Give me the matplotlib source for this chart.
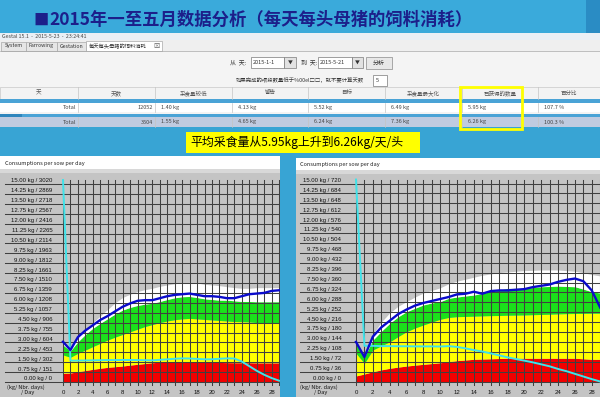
import matplotlib.pyplot as plt
from matplotlib.patches import Rectangle

CJK = ['Noto Sans CJK SC', 'DejaVu Sans']
LAB = ['Liberation Sans', 'DejaVu Sans']

# ---------------- data ----------------
days = list(range(30))
xtick_days = [0, 2, 4, 6, 8, 10, 12, 14, 16, 18, 20, 22, 24, 26, 28]

tick_kg = [0.00, 0.75, 1.50, 2.25, 3.00, 3.75, 4.50, 5.25, 6.00, 6.75, 7.50,
           8.25, 9.00, 9.75, 10.50, 11.25, 12.00, 12.75, 13.50, 14.25, 15.00]
left_nbr = [0, 151, 302, 453, 604, 755, 906, 1057, 1208, 1359, 1510,
            1661, 1812, 1963, 2114, 2265, 2416, 2567, 2718, 2869, 3020]
right_nbr = [0, 36, 72, 108, 144, 180, 216, 252, 288, 324, 360,
             396, 432, 468, 504, 540, 576, 612, 648, 684, 720]

# left chart
red_a = [0.66, 0.68, 0.78, 0.87, 0.96, 1.04, 1.11, 1.16, 1.21, 1.28, 1.34, 1.40, 1.46, 1.50, 1.52,
         1.54, 1.55, 1.55, 1.53, 1.50, 1.49, 1.48, 1.47, 1.46, 1.46, 1.46, 1.45, 1.45, 1.45, 1.45]
yellow_a = [2.05, 1.87, 2.17, 2.42, 2.68, 2.93, 3.18, 3.40, 3.60, 3.80, 4.00, 4.20, 4.35, 4.50, 4.62,
            4.72, 4.78, 4.82, 4.78, 4.74, 4.70, 4.66, 4.62, 4.58, 4.57, 4.55, 4.50, 4.47, 4.44, 4.44]
green_a = [2.80, 2.35, 3.05, 3.60, 4.07, 4.45, 4.80, 5.15, 5.45, 5.65, 5.80, 5.90, 5.96, 6.10, 6.25,
           6.38, 6.46, 6.48, 6.40, 6.30, 6.25, 6.20, 6.20, 6.15, 6.10, 6.10, 6.08, 6.08, 6.08, 6.08]
white_a = [3.10, 2.45, 3.45, 4.00, 4.50, 5.00, 5.50, 6.00, 6.40, 6.65, 6.85, 7.00, 7.10, 7.25, 7.35,
           7.45, 7.50, 7.55, 7.50, 7.40, 7.35, 7.30, 7.22, 7.15, 7.10, 7.10, 7.15, 7.15, 7.15, 7.15]
blue_a = [3.05, 2.42, 3.40, 3.90, 4.30, 4.70, 5.00, 5.35, 5.70, 5.95, 6.15, 6.20, 6.20, 6.35, 6.50,
          6.60, 6.65, 6.70, 6.60, 6.50, 6.50, 6.45, 6.35, 6.35, 6.50, 6.65, 6.70, 6.75, 6.90, 6.95]
cyan_a = [15.30, 1.62, 1.62, 1.63, 1.64, 1.65, 1.66, 1.66, 1.67, 1.67, 1.66, 1.65, 1.64, 1.68, 1.72,
          1.76, 1.79, 1.78, 1.75, 1.72, 1.72, 1.76, 1.79, 1.78, 1.55, 1.20, 0.85, 0.55, 0.30, 0.10]

# right chart
red_b = [0.42, 0.57, 0.74, 0.88, 1.00, 1.09, 1.17, 1.24, 1.30, 1.36, 1.42, 1.50, 1.58, 1.63, 1.68,
         1.70, 1.72, 1.74, 1.76, 1.76, 1.76, 1.76, 1.76, 1.76, 1.76, 1.76, 1.76, 1.72, 1.68, 1.68]
yellow_b = [2.14, 1.38, 2.39, 2.70, 3.00, 3.40, 3.77, 4.05, 4.28, 4.50, 4.71, 4.85, 4.91, 4.93, 4.95,
            4.97, 4.99, 5.00, 5.02, 5.03, 5.04, 5.06, 5.08, 5.10, 5.12, 5.14, 5.15, 5.16, 5.17, 5.17]
green_b = [2.95, 1.85, 3.14, 3.80, 4.40, 4.90, 5.29, 5.55, 5.80, 5.95, 6.05, 6.30, 6.40, 6.48, 6.55,
           6.68, 6.80, 6.93, 7.06, 7.06, 7.06, 7.12, 7.18, 7.20, 7.23, 7.20, 7.18, 7.00, 6.80, 6.70]
white_b = [3.05, 1.90, 3.60, 4.50, 5.20, 5.70, 6.05, 6.40, 6.70, 6.90, 7.10, 7.40, 7.60, 7.75, 7.90,
           8.05, 8.15, 8.25, 8.30, 8.35, 8.40, 8.42, 8.45, 8.45, 8.45, 8.40, 8.35, 8.25, 8.10, 8.00]
blue_b = [3.00, 1.85, 3.40, 4.10, 4.60, 5.10, 5.45, 5.75, 5.95, 6.10, 6.25, 6.40, 6.60, 6.65, 6.80,
          6.65, 6.85, 6.90, 6.90, 6.95, 7.00, 7.15, 7.25, 7.35, 7.55, 7.70, 7.80, 7.60, 6.90, 5.60]
cyan_b = [15.30, 2.70, 2.70, 2.68, 2.68, 2.67, 2.67, 2.66, 2.66, 2.66, 2.65, 2.68, 2.62, 2.51, 2.38,
          2.27, 2.13, 1.98, 1.83, 1.70, 1.58, 1.45, 1.30, 1.15, 0.95, 0.78, 0.58, 0.38, 0.18, 0.00]

# table
table_cols = ['天', '天数', '采食量较低', '警告', '目标', '采食量最大化', '已获得的数量', '百分比']
row_jan = ['Total', '12052', '1.40 kg', '4.13 kg', '5.52 kg', '6.49 kg', '5.95 kg', '107.7 %']
row_may = ['Total', '3504', '1.55 kg', '4.65 kg', '6.24 kg', '7.36 kg', '6.26 kg', '100.3 %']

# ---------------- figure ----------------
fig = plt.figure(figsize=(6, 3.97), dpi=100)
fig.patch.set_facecolor('#38a4d4')
bg = fig.add_axes([0, 0, 1, 1])
bg.set_xlim(0, 600)
bg.set_ylim(397, 0)
bg.axis('off')


def box(x0, y0, x1, y1, fc, ec='none', lw=0.6, z=1):
    bg.add_patch(Rectangle((x0, y0), x1 - x0, y1 - y0, facecolor=fc,
                           edgecolor=ec, linewidth=lw, zorder=z))


def txt(x, y, s, size=4.5, ha='left', color='#333333', **kw):
    bg.text(x, y, s, fontsize=size, ha=ha, va='center', color=color,
            family=CJK, zorder=5, **kw)


# title band
box(0, 0, 600, 33, '#3aaadb')
box(586, 0, 600, 33, '#2a8cc4')
txt(33, 20, '■', size=11, color='#1c1f8a')
txt(49, 20, '2015年一至五月数据分析（每天每头母猪的饲料消耗）', size=12.5,
    color='#1c1f8a', weight='bold')

# software window
box(0, 33, 600, 127, '#f4f4f4')
box(0, 33, 600, 40, '#eaf0f6')
txt(2, 36.5, 'Gestal 15.1  -  2015-5-23  -  23:24:41', size=3.8, color='#444444')
box(0, 40, 600, 51, '#efefef')
for x0, x1, lab in [(1, 26, 'System'), (26, 57, 'Farrowing'), (57, 86, 'Gestation')]:
    box(x0, 41.5, x1, 51, '#e6e6e6', ec='#a8a8a8', lw=0.5)
    txt((x0 + x1) / 2, 46, lab, size=3.8, ha='center')
box(86, 40.5, 162, 51, 'white', ec='#a8a8a8', lw=0.5)
txt(89, 46, '每天每头母猪的饲料消耗', size=3.8)
txt(153, 46, '⊠', size=4.5, color='#666666')
bg.plot([0, 600], [51, 51], color='#a8a8a8', lw=0.5, zorder=2)

# date controls
txt(230, 62.5, '从  天:', size=4.3)
box(251, 57, 284, 68, 'white', ec='#7a7a7a', lw=0.5)
txt(253, 62.5, '2015-1-1', size=4)
box(284, 57, 296, 68, '#e2e2e2', ec='#7a7a7a', lw=0.5)
txt(290, 62.5, '▼', size=3.5, ha='center', color='#333333')
txt(301, 62.5, '到  天:', size=4.3)
box(318, 57, 352, 68, 'white', ec='#7a7a7a', lw=0.5)
txt(320, 62.5, '2015-5-21', size=4)
box(352, 57, 363, 68, '#e2e2e2', ec='#7a7a7a', lw=0.5)
txt(357.5, 62.5, '▼', size=3.5, ha='center', color='#333333')
box(366, 57, 392, 69, '#e8e8e8', ec='#8a8a8a', lw=0.5)
txt(379, 63, '分析', size=4.3, ha='center')
txt(236, 80.5, '如果完成的喂段数量低于%00el□□，就不要计算天数', size=3.85)
box(373, 75, 387, 86, 'white', ec='#7a7a7a', lw=0.5)
txt(376, 80.5, '5', size=4)

# table
col_edges = [0, 78, 155, 232, 308, 385, 462, 538, 600]
box(0, 87, 600, 99, '#f3f3f3', ec='#c8c8c8', lw=0.5)
box(0, 99, 600, 103, '#4aa3d6')
box(0, 103, 600, 112, 'white')
box(0, 114, 600, 117, '#4aa3d6')
box(0, 114, 22, 117, '#2f86bd')
box(0, 117, 600, 127, '#c0cbe0')
for i, name in enumerate(table_cols):
    x0, x1 = col_edges[i], col_edges[i + 1]
    txt((x0 + x1) / 2, 93, name, size=4, ha='center', color='#555555')
    for y0, y1 in [(87, 99), (103, 112), (117, 127)]:
        bg.plot([x1, x1], [y0, y1], color='#c4c4c4', lw=0.5, zorder=2)
for row, yc in [(row_jan, 107.5), (row_may, 122)]:
    for i, val in enumerate(row):
        x0, x1 = col_edges[i], col_edges[i + 1]
        if i < 2:
            txt(x1 - 2, yc, val, size=4, ha='right', color='#444444')
        else:
            txt(x0 + 6, yc, val, size=4, color='#444444')
bg.add_patch(Rectangle((460, 86.5), 62, 42.5, facecolor='none',
                       edgecolor='#ffff00', linewidth=2.0, zorder=6))

# banner
box(186, 132, 420, 153, '#ffff00')
txt(297, 142.5, '平均采食量从5.95kg上升到6.26kg/天/头', size=8.6, ha='center', color='black')

# chart panels
box(0, 156, 280, 169, 'white')
box(0, 169, 280, 397, '#c4c4c4')
box(0, 169, 280, 173, '#d8d8d8')
txt(5, 163, 'Consumptions per sow per day', size=4, color='#222222')
box(296, 158, 600, 170, 'white')
box(296, 170, 600, 397, '#c4c4c4')
box(296, 170, 600, 174, '#d8d8d8')
txt(300, 164.5, 'Consumptions per sow per day', size=4, color='#222222')
for xc in [26, 319]:
    txt(xc, 386.8, '(kg/ Nbr. days)', size=4, ha='center', color='#111111')
    txt(xc + 2, 392.6, '/ Day', size=4, ha='center', color='#111111')

GRID = '#404040'


def draw_chart(rect, xlim, ylim, red, yellow, green, white, blue, cyan, nbrs, lab_day, xt_kg):
    ax = fig.add_axes(rect)
    ax.set_xlim(*xlim)
    ax.set_ylim(*ylim)
    ax.axis('off')
    ax.patch.set_visible(False)
    ax.fill_between(days, 0, red, color='#f20000', lw=0, zorder=1)
    ax.fill_between(days, red, yellow, color='#ffff00', lw=0, zorder=1)
    ax.fill_between(days, yellow, green, color='#1be01b', lw=0, zorder=1)
    ax.fill_between(days, green, white, color='#ffffff', lw=0, zorder=1)
    for d in days:
        ax.plot([d, d], [-0.25, 15.3], color=GRID, lw=0.75, zorder=2)
    for k, n in zip(tick_kg, nbrs):
        ax.plot([xlim[0] + 0.25, xlim[1]], [k, k], color=GRID, lw=0.75, zorder=2)
        ax.text(lab_day, k + 0.04, f'{k:.2f} kg / {n}', fontsize=4.3, ha='right',
                va='bottom', color='#111111', family=LAB)
    for d in xtick_days:
        ax.text(d, xt_kg, str(d), fontsize=4.3, ha='center', va='center',
                color='#111111', family=LAB)
    ax.plot(days, cyan, color='#3fe3ea', lw=1.4, zorder=3)
    ax.plot(days, blue, color='#0a0acb', lw=1.7, zorder=4)
    return ax


H = 397.0
draw_chart([3 / 600, 0, 277 / 600, 225 / H], ((3 - 63) / 7.45, (280 - 63) / 7.45),
           ((382 - 397) / 13.2, (382 - 172) / 13.2),
           red_a, yellow_a, green_a, white_a, blue_a, cyan_a, left_nbr, -1.45, -0.76)
draw_chart([298 / 600, 0, 302 / 600, 225 / H], ((298 - 356) / 8.42, (600 - 356) / 8.42),
           ((381.5 - 397) / 13.2, (381.5 - 172) / 13.2),
           red_b, yellow_b, green_b, white_b, blue_b, cyan_b, right_nbr, -1.75, -0.8)

fig.savefig('out.png', dpi=100, facecolor=fig.get_facecolor())
